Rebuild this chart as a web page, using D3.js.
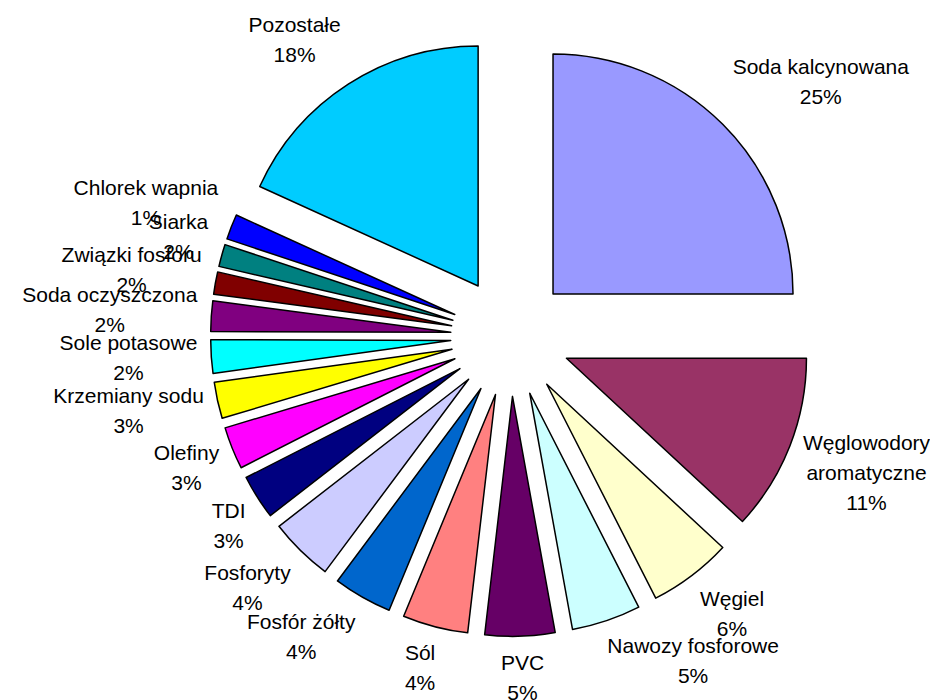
<!DOCTYPE html>
<html>
<head>
<meta charset="utf-8">
<script src="https://cdn.jsdelivr.net/npm/d3@7"></script>
<style>
  html, body { margin: 0; padding: 0; background: #ffffff; }
  svg { display: block; }
</style>
</head>
<body>
<svg id="chart" width="930" height="700"></svg>
<script>
// ---- data ----
const categories = [
  "Soda kalcynowana", "Węglowodory aromatyczne", "Węgiel", "Nawozy fosforowe",
  "PVC", "Sól", "Fosfór żółty", "Fosforyty", "TDI", "Olefiny",
  "Krzemiany sodu", "Sole potasowe", "Soda oczyszczona", "Związki fosforu",
  "Siarka", "Chlorek wapnia", "Pozostałe"
];
// slice sizes as measured from the slice angles (share of the whole, %)
const values = [25.0, 11.9, 5.6, 4.65, 4.7, 4.4, 3.95, 4.3, 3.0, 2.85, 2.45, 2.25, 2.05, 1.5, 1.5, 1.7, 18.2];
// percentages as printed in the data labels
const percentLabels = ["25%", "11%", "6%", "5%", "5%", "4%", "4%", "4%", "3%", "3%", "3%", "2%", "2%", "2%", "2%", "1%", "18%"];
const colors = [
  "#9999FF", "#993366", "#FFFFCC", "#CCFFFF", "#660066", "#FF8080", "#0066CC",
  "#CCCCFF", "#000080", "#FF00FF", "#FFFF00", "#00FFFF", "#800080", "#800000",
  "#008080", "#0000FF", "#00CCFF"
];

// ---- layout ----
const cx = 510.6, cy = 336.4;
const radius = 240, explode = 60, labelR = 314;
const fontFamily = "'Liberation Sans', Arial, Helvetica, sans-serif";
const fontSize = 21, lineH = 30, wrapWidth = 200, baselineShift = 4.5;

const svg = d3.select("#chart");
svg.append("rect").attr("width", 930).attr("height", 700).attr("fill", "#ffffff");

const data = categories.map((c, i) => ({ name: c, value: values[i], pct: percentLabels[i], color: colors[i] }));
const pie = d3.pie().sort(null).value(d => d.value).startAngle(0).endAngle(2 * Math.PI);
const arcs = pie(data);
const arc = d3.arc().innerRadius(0).outerRadius(radius);

const g = svg.append("g").attr("transform", `translate(${cx},${cy})`);
const mid = d => (d.startAngle + d.endAngle) / 2;

g.selectAll("path.slice").data(arcs).join("path")
  .attr("class", "slice")
  .attr("transform", d => `translate(${explode * Math.sin(mid(d))},${-explode * Math.cos(mid(d))})`)
  .attr("d", arc)
  .attr("fill", d => d.data.color)
  .attr("stroke", "#000")
  .attr("stroke-width", 1.5)
  .attr("stroke-linejoin", "round");

const clamp = v => Math.max(-1, Math.min(1, v));

const labelG = g.append("g").attr("class", "labels");
arcs.forEach(d => {
  const t = labelG.append("text")
    .attr("font-family", fontFamily)
    .attr("font-size", fontSize)
    .attr("fill", "#000")
    .attr("text-anchor", "middle");
  // wrap the category name
  const measure = s => { t.text(s); return t.node().getComputedTextLength(); };
  const words = d.data.name.split(" ");
  const lines = [];
  let cur = "";
  words.forEach(w => {
    const trial = cur ? cur + " " + w : w;
    if (cur && measure(trial) > wrapWidth) { lines.push(cur); cur = w; }
    else cur = trial;
  });
  if (cur) lines.push(cur);
  lines.push(d.data.pct);
  const w = d3.max(lines, s => measure(s));
  t.text(null);
  const n = lines.length, h = n * lineH;
  const a = mid(d), ux = Math.sin(a), uy = -Math.cos(a);
  const lx = labelR * ux + (w / 2) * clamp(3 * ux);
  const ly = labelR * uy + (h / 2) * clamp(1.5 * uy);
  lines.forEach((s, i) => {
    t.append("tspan")
      .attr("x", lx)
      .attr("y", ly + (i - (n - 1) / 2) * lineH + baselineShift)
      .text(s);
  });
});
</script>
</body>
</html>
